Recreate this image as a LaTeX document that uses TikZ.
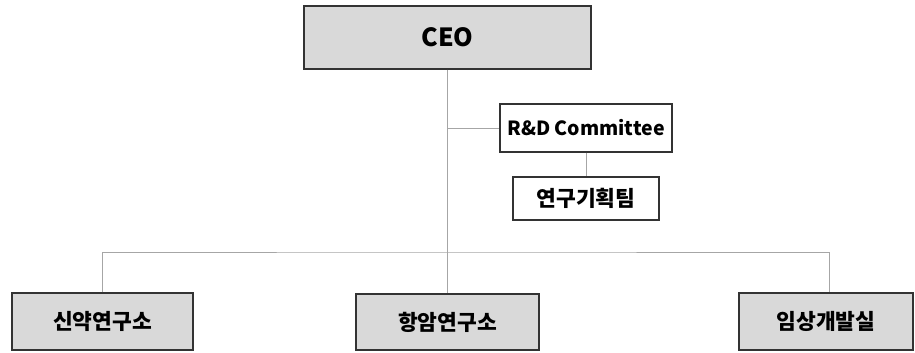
\documentclass[tikz,border=0pt]{standalone}
\usepackage{fontspec}
\setmainfont{Noto Sans CJK KR}
\usetikzlibrary{positioning}
\definecolor{boxgray}{HTML}{D9D9D9}
\definecolor{linegray}{HTML}{A6A6A6}
\definecolor{edgegray}{HTML}{333333}
\tikzset{
  orgbox/.style={draw=edgegray, line width=1.2pt, inner sep=0pt, font=\bfseries\fontsize{21.5}{25}\selectfont},
  greybox/.style={orgbox, fill=boxgray},
  link/.style={draw=linegray, line width=1pt}
}
\begin{document}
\begin{tikzpicture}[x=1pt, y=-1pt]
        \useasboundingbox (0,0) rectangle (915,353);
        % CEO (top)
        \node[greybox, minimum width=287pt, minimum height=63pt, font=\bfseries\fontsize{25}{30}\selectfont] (ceo) at (447.5,37.5) {CEO};
        
        % Committee and planning team
        \node[orgbox, fill=white, minimum width=172pt, minimum height=48pt, font=\bfseries\fontsize{19.5}{23}\selectfont] (rnd) at (586,128) {R\&D Committee};
        \node[orgbox, fill=white, minimum width=146pt, minimum height=43pt] (plan) at (586,198.5) {연구기획팀};
        
        % Bottom row
        \node[greybox, minimum width=181pt, minimum height=57pt] (drug) at (102.5,321.5) {신약연구소};
        \node[greybox, minimum width=183pt, minimum height=56pt] (cancer) at (447.5,322) {항암연구소};
        \node[greybox, minimum width=174pt, minimum height=57pt] (clinic) at (826,321.5) {임상개발실};
        
        % Connectors
        \coordinate (bus) at (ceo.south |- 0,252);
        \coordinate (trunk) at (ceo.south |- rnd.west);
        \draw[link] (ceo.south) -- (ceo.south |- cancer.north);
        \draw[link] (trunk) -- (rnd.west);
        \draw[link] (rnd.south) -- (plan.north);
        \draw[link] (drug.north) |- (bus) -| ([xshift=3pt]clinic.north);
\end{tikzpicture}
\end{document}
